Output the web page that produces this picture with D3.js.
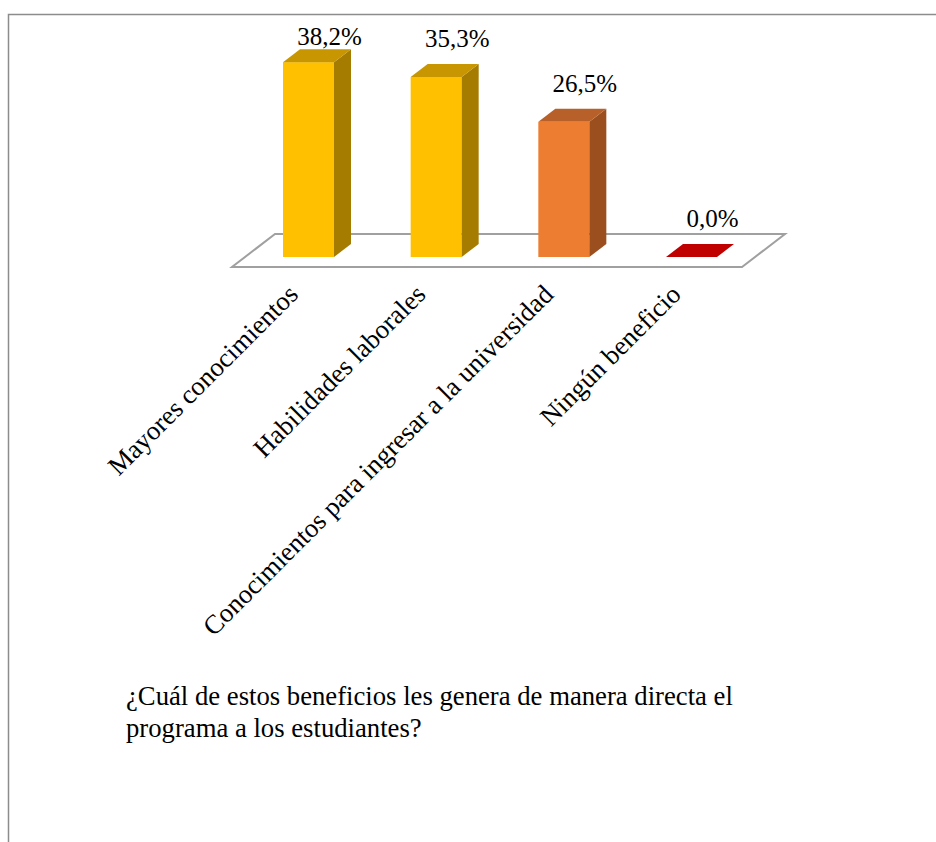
<!DOCTYPE html>
<html lang="es">
<head>
  <meta charset="UTF-8">
  <title>Beneficios del programa</title>
  <script src="https://d3js.org/d3.v7.min.js"></script>
  <style>
    body { margin: 0; background: #fff; overflow: hidden; }
    svg { display: block; }
  </style>
</head>
<body>
  <svg width="936" height="842"></svg>
  <script>
    const categories = ['Mayores conocimientos', 'Habilidades laborales',
      'Conocimientos para ingresar a la universidad', 'Ningún beneficio'];
    const values = [38.2, 35.3, 26.5, 0.0];
    const labels = ['38,2%', '35,3%', '26,5%', '0,0%'];
    const fronts = ['#FFC000', '#FFC000', '#ED7D31', '#C00000'];
    const tops = ['#C89600', '#C89600', '#B8602A', '#C00000'];
    const sides = ['#A67C00', '#A67C00', '#9C4F1E', '#900000'];
    const titleLines = ['¿Cuál de estos beneficios les genera de manera directa el',
      'programa a los estudiantes?'];

    const font = "'Liberation Serif', 'DejaVu Serif', serif";
    const svg = d3.select('svg');

    // marco del área (cortado a la derecha y abajo)
    svg.append('path')
      .attr('d', 'M8.5,842 V14.5 H936')
      .attr('fill', 'none').attr('stroke', '#8c8c8c').attr('stroke-width', 1.5);

    const base = 257;
    const x = d3.scalePoint().domain(categories).range([308.5, 691.5]);
    const y = d3.scaleLinear().domain([0, 40]).range([base, base - 204]);
    const bw = 51, ddx = 17, ddy = -13;

    // suelo
    const fl = 232, fr = 742, fy = 267, fdx = 43, fdy = -33;
    svg.append('path')
      .attr('d', `M${fl},${fy} L${fr},${fy} L${fr + fdx},${fy + fdy} L${fl + fdx},${fy + fdy} Z`)
      .attr('fill', '#fff').attr('stroke', '#a0a0a0').attr('stroke-width', 2);

    const g = svg.append('g');
    categories.forEach((c, i) => {
      const x0 = x(c) - bw / 2, x1 = x(c) + bw / 2;
      const yt = y(values[i]);
      if (values[i] > 0) {
        g.append('rect').attr('x', x0).attr('y', yt).attr('width', bw).attr('height', base - yt)
          .attr('fill', fronts[i]);
        g.append('path')
          .attr('d', `M${x1},${yt} L${x1 + ddx},${yt + ddy} L${x1 + ddx},${base + ddy} L${x1},${base} Z`)
          .attr('fill', sides[i]);
      }
      g.append('path')
        .attr('d', `M${x0},${yt} L${x1},${yt} L${x1 + ddx},${yt + ddy} L${x0 + ddx},${yt + ddy} Z`)
        .attr('fill', tops[i]);

      g.append('text')
        .attr('x', x(c) + 21)
        .attr('y', Math.max(45, yt + ddy - 17))
        .attr('text-anchor', 'middle')
        .attr('font-family', font)
        .attr('font-size', 25)
        .text(labels[i]);

      g.append('text')
        .attr('transform', `translate(${x(c) - 9},${296}) rotate(-45)`)
        .attr('text-anchor', 'end')
        .attr('font-family', font)
        .attr('font-size', 26.7)
        .text(c);
    });

    svg.append('text')
      .attr('x', 126).attr('y', 705)
      .attr('font-family', font)
      .attr('font-size', 26.7)
      .selectAll('tspan').data(titleLines).join('tspan')
      .attr('x', 126).attr('dy', (d, i) => i ? 32 : 0)
      .text(d => d);
  </script>
</body>
</html>
